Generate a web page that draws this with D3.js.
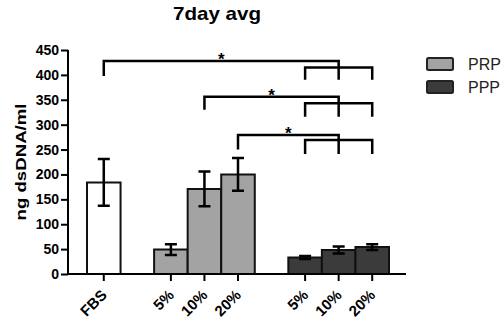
<!DOCTYPE html>
<meta charset="utf-8">
<style>
    body { margin: 0; background: #fff; }
    svg { font-family: "Liberation Sans", Arial, sans-serif; }
    .axis path, .axis line { stroke: #000; stroke-width: 2; }
    .axis text { font-size: 14px; font-weight: bold; fill: #000; }
    path.bar { stroke: #111; stroke-width: 2; }
    .err, .bracket { stroke: #000; fill: none; stroke-width: 2.5; }
</style>
<body>
<script src="https://cdn.jsdelivr.net/npm/d3@7"></script>
<script>

    // slots on the x axis, gaps included
    var keys = ["FBS", "gap1", "PRP 5%", "PRP 10%", "PRP 20%", "gap2", "PPP 5%", "PPP 10%", "PPP 20%"];
    var tickLabels = {"FBS": "FBS", "PRP 5%": "5%", "PRP 10%": "10%", "PRP 20%": "20%",
                      "PPP 5%": "5%", "PPP 10%": "10%", "PPP 20%": "20%"};

    var barKeys = ["FBS", "PRP 5%", "PRP 10%", "PRP 20%", "PPP 5%", "PPP 10%", "PPP 20%"];
    var barGroup = ["FBS", "PRP", "PRP", "PRP", "PPP", "PPP", "PPP"];
    var barValues = [184, 49, 171, 200, 33, 48, 54];
    var barErrors = [47, 11, 35, 33, 3, 7, 6];

    var groupFill = {"FBS": "#ffffff", "PRP": "#a3a3a3", "PPP": "#3b3b3b"};
    var legendNames = ["PRP", "PPP"];

    // significance brackets: from -> to (PPP 10% = centre of the PPP group)
    var brFrom = ["FBS", "PRP 10%", "PRP 20%"];
    var brTop = [428, 356, 279];
    var brLeg = [398, 330, 250];
    var brSub = [415, 343, 269];
    var brSubLeg = [390, 316, 241];

    var yTicks = [0, 50, 100, 150, 200, 250, 300, 350, 400, 450];

    var svg = d3.select("body").append("svg")
            .attr("width", 504)
            .attr("height", 318);

    var x = d3.scaleBand().domain(keys).range([87, 389]).padding(0);
    var y = d3.scaleLinear().domain([0, 450]).range([274, 50]);
    var cx = function(k) { return x(k) + x.bandwidth() / 2; };

    // title
    svg.append("text")
            .attr("x", 217).attr("y", 20)
            .attr("text-anchor", "middle")
            .attr("textLength", 88).attr("lengthAdjust", "spacingAndGlyphs")
            .style("font-size", "19px").style("font-weight", "bold")
            .text("7day avg");

    // y axis
    var yAxis = d3.axisLeft(y).tickValues(yTicks).tickSize(7).tickPadding(2);
    var gy = svg.append("g").attr("class", "axis")
            .attr("transform", "translate(68,0)")
            .call(yAxis);
    gy.select(".domain").attr("d", "M0," + y(450) + "V" + (y(0) + 1));

    svg.append("text")
            .attr("transform", "translate(26,162) rotate(-90)")
            .attr("text-anchor", "middle")
            .attr("textLength", 117).attr("lengthAdjust", "spacingAndGlyphs")
            .style("font-size", "15px").style("font-weight", "bold")
            .text("ng dsDNA/ml");

    // bars
    barKeys.forEach(function(k, i) {
        var x0 = x(k), x1 = x(k) + x.bandwidth();
        svg.append("path").attr("class", "bar")
                .attr("fill", groupFill[barGroup[i]])
                .attr("d", "M" + x0 + "," + y(0) + "V" + y(barValues[i]) + "H" + x1 + "V" + y(0));
    });

    // error bars
    barKeys.forEach(function(k, i) {
        var c = cx(k), hi = y(barValues[i] + barErrors[i]), lo = y(barValues[i] - barErrors[i]);
        svg.append("path").attr("class", "err")
                .attr("d", "M" + c + "," + hi + "V" + lo +
                           "M" + (c - 6) + "," + hi + "H" + (c + 6) +
                           "M" + (c - 6) + "," + lo + "H" + (c + 6));
    });

    // x axis
    var xAxis = d3.axisBottom(x).tickValues(barKeys).tickSize(7).tickFormat("");
    var gx = svg.append("g").attr("class", "axis")
            .attr("transform", "translate(0," + y(0) + ")")
            .call(xAxis);
    gx.select(".domain").attr("d", "M67,0H406");

    barKeys.forEach(function(k) {
        svg.append("text")
                .attr("transform", "translate(" + (cx(k) + 4) + ",296) rotate(-45)")
                .attr("text-anchor", "end")
                .style("font-size", "15px").style("font-weight", "bold").style("fill", "#000")
                .text(tickLabels[k]);
    });

    // brackets
    brFrom.forEach(function(k, i) {
        var a = cx(k), b = cx("PPP 10%");
        var s0 = cx("PPP 5%"), s1 = cx("PPP 20%");
        svg.append("path").attr("class", "bracket")
                .attr("d", "M" + a + "," + y(brLeg[i]) + "V" + y(brTop[i]) + "H" + b + "V" + y(brSubLeg[i]) +
                           "M" + s0 + "," + y(brSubLeg[i]) + "V" + y(brSub[i]) + "H" + s1 + "V" + y(brSubLeg[i]));
        svg.append("text")
                .attr("x", (a + b) / 2).attr("y", y(brTop[i]) + 4)
                .attr("text-anchor", "middle")
                .style("font-size", "17px").style("font-weight", "bold")
                .text("*");
    });

    // legend
    legendNames.forEach(function(n, i) {
        var g = svg.append("g").attr("transform", "translate(427," + (58 + i * 23) + ")");
        g.append("rect").attr("width", 26).attr("height", 12).attr("rx", 1.5)
                .attr("fill", groupFill[n]).attr("stroke", "#222").attr("stroke-width", 2);
        g.append("text").attr("x", 41).attr("y", 12)
                .style("font-size", "16px").style("fill", "#222")
                .text(n);
    });

</script>
</body>
